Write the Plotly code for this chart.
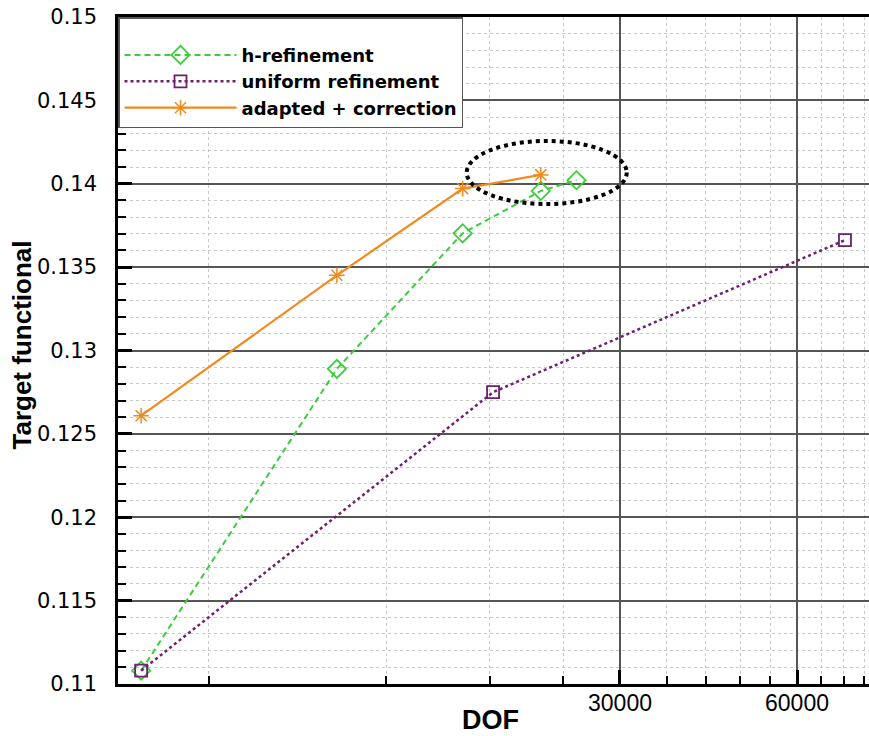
import plotly.graph_objects as go

# ---- data ----
h_dof = [4600, 9900, 16200, 22000, 25300]
h_val = [0.1108, 0.1289, 0.13703, 0.13957, 0.14021]

u_dof = [4600, 18250, 72400]
u_val = [0.1108, 0.1275, 0.13662]

a_dof = [4600, 9900, 16200, 22000]
a_val = [0.12609, 0.13451, 0.13971, 0.14053]

x_major_ticks = [30000, 60000]
x_major_labels = ["30000", "60000"]
x_minor_ticks = [6000, 12000, 18000, 24000, 36000, 42000, 48000, 54000, 66000, 72000, 78000]
y_major_ticks = [0.11, 0.115, 0.12, 0.125, 0.13, 0.135, 0.14, 0.145, 0.15]
y_major_labels = ["0.11", "0.115", "0.12", "0.125", "0.13", "0.135", "0.14", "0.145", "0.15"]

FONT = "Liberation Sans, Arial, Helvetica, sans-serif"
WIDE = "DejaVu Sans, Verdana, sans-serif"

fig = go.Figure()
fig.add_trace(go.Scatter(
    x=h_dof, y=h_val, name="h-refinement", mode="lines+markers",
    line=dict(color="#3dcc3d", width=2, dash="6px,4px"),
    marker=dict(symbol="diamond-open", size=14, color="#3dcc3d", line=dict(width=1.8)),
))
fig.add_trace(go.Scatter(
    x=u_dof, y=u_val, name="uniform refinement", mode="lines+markers",
    line=dict(color="#6e1f6e", width=2.5, dash="dot"),
    marker=dict(symbol="square-open", size=12, color="#6e1f6e", line=dict(width=1.8)),
))
fig.add_trace(go.Scatter(
    x=a_dof, y=a_val, name="adapted + correction", mode="lines+markers",
    line=dict(color="#f28a1e", width=2.2),
    marker=dict(symbol="asterisk-open", size=13, color="#f28a1e", line=dict(width=1.5, color="#f28a1e")),
))

# dotted ellipse highlighting the converged region (plot-area fractions)
fig.add_shape(type="circle", xref="paper", yref="paper",
              x0=0.4643, x1=0.6774, y0=0.7196, y1=0.8141,
              line=dict(color="black", width=4, dash="dot"), layer="above")

# axis titles
fig.add_annotation(text="<b>Target functional</b>", xref="paper", yref="paper",
                   x=0, y=0.5, xanchor="center", yanchor="middle", xshift=-97, yshift=5,
                   textangle=-90, showarrow=False, font=dict(family=FONT, size=26, color="black"))
fig.add_annotation(text="<b>DOF</b>", xref="paper", yref="paper",
                   x=0.5, y=0, xanchor="center", yanchor="middle", xshift=-3, yshift=-36,
                   showarrow=False, font=dict(family=FONT, size=27, color="black"))

fig.update_layout(
    width=869, height=736,
    margin=dict(l=118, r=0, t=17, b=52),
    paper_bgcolor="white", plot_bgcolor="white",
    font=dict(family=FONT, size=17, color="black"),
    showlegend=True,
    legend=dict(
        x=0, y=1, xanchor="left", yanchor="top",
        bgcolor="white", bordercolor="#555", borderwidth=1.5,
        font=dict(family=WIDE, size=18, color="black", weight="bold"),
        itemwidth=112, tracegroupgap=0,
        title=dict(text=" ", font=dict(size=14)),
    ),
    xaxis=dict(
        type="log", range=[3.6234, 4.9006],
        tickmode="array", tickvals=x_major_ticks, ticktext=x_major_labels,
        ticks="inside", ticklen=14, tickwidth=3, tickcolor="black",
        showline=True, linecolor="black", linewidth=2.5, mirror=True,
        showgrid=True, gridcolor="#555", gridwidth=1.5,
        zeroline=False,
        tickfont=dict(family=FONT, size=23),
        ticklabelstandoff=-3,
        minor=dict(tickmode="array", tickvals=x_minor_ticks, ticks="inside", ticklen=8,
                   tickwidth=1.5, tickcolor="black", showgrid=True,
                   gridcolor="#c8c8c8", griddash="dot", gridwidth=1),
    ),
    yaxis=dict(
        range=[0.11, 0.15],
        tickmode="array", tickvals=y_major_ticks, ticktext=y_major_labels,
        ticks="inside", ticklen=14, tickwidth=3, tickcolor="black",
        showline=True, linecolor="black", linewidth=2.5, mirror=False,
        showgrid=True, gridcolor="#555", gridwidth=1.5,
        zeroline=False,
        tickfont=dict(family=WIDE, size=21),
        ticklabelstandoff=14,
        minor=dict(dtick=0.001, ticks="inside", ticklen=8, tickwidth=1.5, tickcolor="black",
                   showgrid=True, gridcolor="#c8c8c8", griddash="dot", gridwidth=1),
    ),
)

fig.write_html(
    "out.html",
    config={"displayModeBar": False},
    post_script="document.body.style.margin='0px';document.documentElement.style.overflow='hidden';",
)
